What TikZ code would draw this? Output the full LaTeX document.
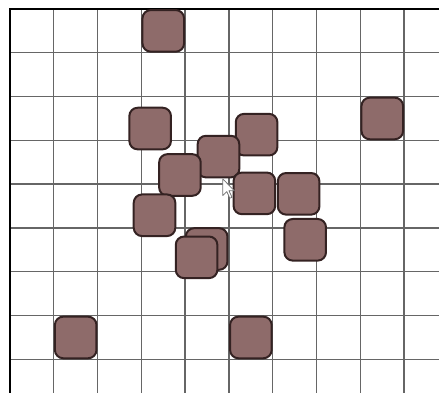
\documentclass[tikz,border=0pt]{standalone}
\usepackage{tikz}
\definecolor{tilefill}{RGB}{142,107,106}
\definecolor{tileedge}{RGB}{52,34,34}

\begin{document}
\begin{tikzpicture}[x=1cm, y=-1cm,
  tile/.style={draw=tileedge, line width=1.3pt, fill=tilefill,
    rounded corners=0.19cm, minimum size=0.95cm, inner sep=0pt}]
  \useasboundingbox (-0.228,-0.205) rectangle (9.795,8.767);
  % board
  \draw[black!60, line width=0.9pt] (0,0) grid (9.795,8.767);
  \draw[line width=1.6pt] (0,8.767) -- (0,0) -- (9.795,0);
  % tiles on the grid
  \node[tile] (top) at (3.5,0.5) {};
  \node[tile] (right) at (8.5,2.5) {};
  \node[tile] (lowleft) at (1.5,7.5) {};
  \node[tile] (lowmid) at (5.5,7.5) {};
  % loose tiles
  \node[tile] (a) at (3.2,2.73) {};
  \node[tile] (d) at (5.63,2.87) {};
  \node[tile] (c) at (4.76,3.37) {};
  \node[tile] (b) at (3.88,3.79) {};
  \node[tile] (e) at (5.58,4.21) {};
  \node[tile] (f) at (6.59,4.22) {};
  \node[tile] (h) at (3.3,4.71) {};
  \node[tile] (g) at (6.74,5.27) {};
  \node[tile] (i) at (4.49,5.48) {};
  \node[tile] (j) at (4.26,5.67) {};
  % pointer
  \coordinate (cursor) at (4.86,3.88);
  \draw[fill=white, draw=black!55, line width=0.5pt, line join=round]
    (cursor) -- ++(0,0.38) -- ++(0.09,-0.09) -- ++(0.07,0.15)
    -- ++(0.05,-0.02) -- ++(-0.07,-0.15) -- ++(0.12,0) -- cycle;
\end{tikzpicture}
\end{document}
